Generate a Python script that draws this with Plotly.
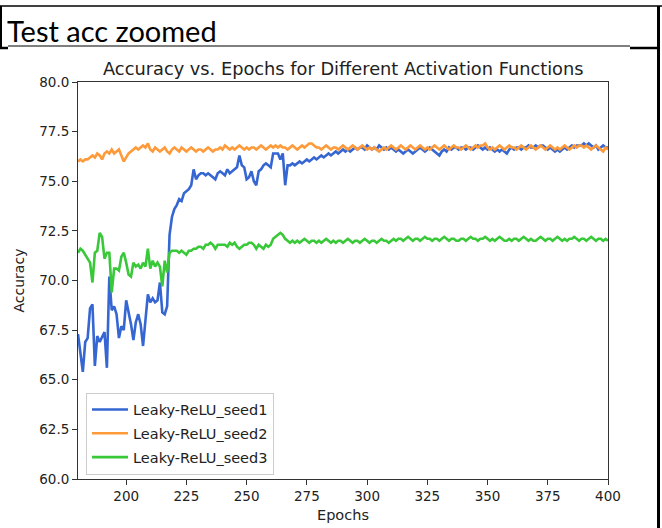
import plotly.graph_objects as go

# Epochs shown in the zoomed view
epochs = list(range(180, 401))

seed1_acc = [
    67.3, 66.2, 65.4, 66.9, 67.1, 68.6, 68.8, 65.7, 67.2, 66.9,  # 180-189
    67.2, 67.4, 65.6, 70.2, 68.5, 68.7, 68.3, 67.1, 67.7, 67.5,  # 190-199
    69.0, 68.4, 67.8, 67.0, 67.9, 68.3, 67.8, 66.7, 67.9, 69.3,  # 200-209
    68.9, 69.1, 68.9, 69.0, 69.9, 68.4, 68.3, 68.7, 72.3, 73.2,  # 210-219
    73.6, 73.8, 74.1, 74.0, 74.4, 74.5, 74.6, 74.8, 75.6, 75.1,  # 220-229
    75.3, 75.4, 75.4, 75.3, 75.4, 75.3, 75.2, 75.1, 75.4, 75.5,  # 230-239
    75.4, 75.3, 75.6, 75.4, 75.5, 75.6, 75.7, 76.3, 75.8, 75.7,  # 240-249
    75.1, 75.2, 75.5, 75.0, 74.8, 75.5, 75.6, 75.8, 75.9, 75.8,  # 250-259
    75.7, 76.4, 76.4, 76.4, 76.1, 76.4, 74.8, 75.8, 75.8, 75.9,  # 260-269
    75.8, 75.9, 76.0, 75.9, 76.0, 76.1, 76.0, 76.1, 76.2, 76.1,  # 270-279
    76.2, 76.3, 76.2, 76.3, 76.4, 76.3, 76.4, 76.5, 76.4, 76.5,  # 280-289
    76.6, 76.5, 76.6, 76.5, 76.6, 76.7, 76.6, 76.7, 76.7, 76.6,  # 290-299
    76.8, 76.7, 76.6, 76.7, 76.6, 76.8, 76.7, 76.6, 76.7, 76.6,  # 300-309
    76.7, 76.6, 76.5, 76.6, 76.5, 76.4, 76.5, 76.6, 76.5, 76.4,  # 310-319
    76.5, 76.6, 76.7, 76.6, 76.5, 76.6, 76.7, 76.6, 76.5, 76.4,  # 320-329
    76.3, 76.5, 76.6, 76.5, 76.7, 76.6, 76.7, 76.7, 76.6, 76.7,  # 330-339
    76.7, 76.6, 76.7, 76.7, 76.6, 76.7, 76.8, 76.7, 76.6, 76.7,  # 340-349
    76.6, 76.7, 76.6, 76.5, 76.6, 76.5, 76.6, 76.5, 76.4, 76.6,  # 350-359
    76.7, 76.6, 76.7, 76.7, 76.6, 76.7, 76.7, 76.8, 76.7, 76.7,  # 360-369
    76.8, 76.7, 76.8, 76.8, 76.7, 76.6, 76.7, 76.6, 76.5, 76.6,  # 370-379
    76.5, 76.6, 76.7, 76.6, 76.7, 76.8, 76.7, 76.8, 76.8, 76.8,  # 380-389
    76.9, 76.8, 76.9, 76.8, 76.7, 76.8, 76.6, 76.7, 76.8, 76.7,  # 390-399
    76.7,                                                        # 400
]

seed2_acc = [
    76.0, 76.1, 76.0, 76.1, 76.1, 76.2, 76.3, 76.2, 76.4, 76.3,  # 180-189
    76.1, 76.4, 76.5, 76.4, 76.6, 76.4, 76.5, 76.6, 76.3, 76.0,  # 190-199
    76.2, 76.4, 76.5, 76.6, 76.7, 76.6, 76.7, 76.8, 76.7, 76.9,  # 200-209
    76.6, 76.5, 76.7, 76.6, 76.5, 76.6, 76.7, 76.5, 76.4, 76.6,  # 210-219
    76.7, 76.6, 76.5, 76.7, 76.6, 76.5, 76.6, 76.7, 76.6, 76.5,  # 220-229
    76.6, 76.6, 76.5, 76.6, 76.7, 76.6, 76.5, 76.6, 76.6, 76.7,  # 230-239
    76.6, 76.8, 76.7, 76.6, 76.7, 76.6, 76.7, 76.8, 76.7, 76.6,  # 240-249
    76.7, 76.6, 76.7, 76.7, 76.6, 76.7, 76.8, 76.7, 76.6, 76.7,  # 250-259
    76.8, 76.7, 76.8, 76.7, 76.8, 76.7, 76.7, 76.6, 76.7, 76.8,  # 260-269
    76.7, 76.6, 76.7, 76.8, 76.7, 76.8, 76.9, 76.9, 76.8, 76.7,  # 270-279
    76.7, 76.6, 76.7, 76.8, 76.7, 76.6, 76.7, 76.7, 76.6, 76.7,  # 280-289
    76.8, 76.7, 76.6, 76.7, 76.8, 76.7, 76.6, 76.7, 76.8, 76.7,  # 290-299
    76.6, 76.7, 76.6, 76.7, 76.6, 76.5, 76.6, 76.7, 76.6, 76.7,  # 300-309
    76.8, 76.7, 76.6, 76.7, 76.8, 76.7, 76.6, 76.7, 76.8, 76.7,  # 310-319
    76.6, 76.7, 76.8, 76.7, 76.6, 76.7, 76.6, 76.7, 76.8, 76.7,  # 320-329
    76.6, 76.7, 76.8, 76.7, 76.6, 76.7, 76.8, 76.7, 76.7, 76.6,  # 330-339
    76.7, 76.8, 76.7, 76.6, 76.7, 76.8, 76.7, 76.8, 76.8, 76.9,  # 340-349
    76.7, 76.6, 76.7, 76.6, 76.7, 76.8, 76.7, 76.6, 76.7, 76.8,  # 350-359
    76.7, 76.7, 76.6, 76.7, 76.8, 76.7, 76.6, 76.7, 76.8, 76.7,  # 360-369
    76.6, 76.7, 76.8, 76.7, 76.6, 76.7, 76.8, 76.7, 76.6, 76.7,  # 370-379
    76.6, 76.7, 76.8, 76.7, 76.6, 76.7, 76.8, 76.7, 76.8, 76.8,  # 380-389
    76.7, 76.8, 76.7, 76.6, 76.7, 76.8, 76.7, 76.6, 76.5, 76.7,  # 390-399
    76.6,                                                        # 400
]

seed3_acc = [
    71.4, 71.6, 71.5, 71.3, 71.1, 70.9, 69.9, 71.4, 71.5, 72.4,  # 180-189
    72.2, 71.1, 71.4, 71.4, 69.4, 70.6, 70.6, 70.5, 71.2, 71.4,  # 190-199
    70.9, 70.3, 70.2, 70.9, 70.7, 70.8, 70.6, 70.9, 70.7, 71.6,  # 200-209
    70.6, 71.0, 70.7, 70.9, 70.7, 69.7, 71.0, 70.4, 71.4, 71.5,  # 210-219
    71.5, 71.5, 71.4, 71.5, 71.4, 71.3, 71.5, 71.5, 71.6, 71.6,  # 220-229
    71.7, 71.7, 71.6, 71.8, 71.8, 71.9, 71.8, 71.6, 71.8, 71.8,  # 230-239
    71.8, 71.8, 71.7, 71.9, 71.8, 71.9, 71.7, 71.6, 71.7, 71.8,  # 240-249
    71.8, 71.9, 71.9, 71.8, 71.6, 71.8, 71.7, 71.6, 71.8, 71.7,  # 250-259
    71.8, 72.1, 72.2, 72.3, 72.4, 72.3, 72.1, 72.0, 71.9, 72.0,  # 260-269
    71.9, 72.0, 71.9, 72.0, 72.1, 72.0, 71.9, 72.0, 72.0, 71.9,  # 270-279
    72.0, 71.9, 72.0, 72.1, 72.0, 71.9, 72.0, 71.9, 72.0, 72.0,  # 280-289
    71.9, 72.0, 72.1, 72.0, 71.9, 72.0, 72.0, 71.9, 72.0, 72.1,  # 290-299
    72.0, 71.9, 72.0, 72.0, 71.9, 72.0, 72.1, 72.0, 72.0, 71.9,  # 300-309
    72.0, 72.1, 72.0, 72.1, 72.1, 72.0, 72.1, 72.2, 72.1, 72.0,  # 310-319
    72.1, 72.1, 72.0, 72.1, 72.2, 72.1, 72.1, 72.0, 72.1, 72.1,  # 320-329
    72.0, 72.1, 72.2, 72.1, 72.0, 72.1, 72.1, 72.0, 72.0, 72.1,  # 330-339
    72.1, 72.0, 72.1, 72.2, 72.1, 72.1, 72.0, 72.1, 72.1, 72.2,  # 340-349
    72.1, 72.0, 72.1, 72.0, 72.1, 72.2, 72.1, 72.0, 72.0, 72.1,  # 350-359
    72.0, 72.1, 72.1, 72.0, 72.1, 72.2, 72.1, 72.0, 72.1, 72.0,  # 360-369
    72.0, 72.1, 72.2, 72.1, 72.0, 72.1, 72.1, 72.0, 72.1, 72.2,  # 370-379
    72.1, 72.0, 72.1, 72.0, 72.1, 72.1, 72.2, 72.1, 72.0, 72.1,  # 380-389
    72.1, 72.0, 72.1, 72.2, 72.1, 72.0, 72.1, 72.1, 72.0, 72.1,  # 390-399
    72.0,                                                        # 400
]

series_names = ["Leaky-ReLU_seed1", "Leaky-ReLU_seed2", "Leaky-ReLU_seed3"]
series_colors = ["#3566d2", "#ff9a3a", "#38c838"]

x_ticks = [200, 225, 250, 275, 300, 325, 350, 375, 400]
y_ticks = [60.0, 62.5, 65.0, 67.5, 70.0, 72.5, 75.0, 77.5, 80.0]

W, H = 662, 528
ML, MR, MT, MB = 78, W - 608, 82, H - 479
PW, PH = W - ML - MR, H - MT - MB


def px(xpix):
    return (xpix - ML) / PW


def py(ypix):
    return (H - MB - ypix) / PH


fig = go.Figure()
for name, ys, col in zip(series_names, [seed1_acc, seed2_acc, seed3_acc], series_colors):
    fig.add_trace(go.Scatter(
        x=epochs, y=ys, mode="lines", name=name, legendgroup=name,
        line=dict(color=col, width=2.6),
    ))

axis_common = dict(
    showgrid=False, zeroline=False, showline=True, mirror=True,
    linecolor="#333333", linewidth=1, ticks="outside", ticklen=5,
    tickwidth=1, tickcolor="#333333",
    tickfont=dict(family="DejaVu Sans", size=13.5, color="#222222"),
)

fig.update_layout(
    width=W, height=H,
    margin=dict(l=ML, r=MR, t=MT, b=MB),
    paper_bgcolor="white", plot_bgcolor="white",
    showlegend=True,
    legend=dict(
        x=px(86), y=py(474.5), xanchor="left", yanchor="bottom",
        bgcolor="rgba(255,255,255,0.85)", bordercolor="#cccccc", borderwidth=1,
        font=dict(family="DejaVu Sans", size=14.5, color="#222222"),
        tracegroupgap=2, itemwidth=36,
    ),
    xaxis=dict(range=[180, 400], tickvals=x_ticks,
               ticktext=[str(v) for v in x_ticks], **axis_common),
    yaxis=dict(range=[60, 80], tickvals=y_ticks,
               ticktext=[f"{v:.1f}" for v in y_ticks], **axis_common),
)

# Titles and axis labels
fig.add_annotation(
    text="Accuracy vs. Epochs for Different Activation Functions",
    xref="paper", yref="paper", x=0.5, y=py(68), xanchor="center", yanchor="middle",
    showarrow=False, font=dict(family="DejaVu Sans", size=17.8, color="#222222"),
)
fig.add_annotation(
    text="Accuracy", textangle=-90,
    xref="paper", yref="paper", x=px(18), y=0.5, xanchor="center", yanchor="middle",
    showarrow=False, font=dict(family="DejaVu Sans", size=14, color="#222222"),
)
fig.add_annotation(
    text="Epochs",
    xref="paper", yref="paper", x=0.5, y=py(515), xanchor="center", yanchor="middle",
    showarrow=False, font=dict(family="DejaVu Sans", size=14.5, color="#222222"),
)

# Slide-style header with its frame
fig.add_annotation(
    text="Test acc zoomed",
    xref="paper", yref="paper", x=px(5), y=py(31), xanchor="left", yanchor="middle",
    showarrow=False, font=dict(family="Lato", size=29, color="black"),
)


def frame_line(x0, y0, x1, y1, width):
    fig.add_shape(type="line", xref="paper", yref="paper",
                  x0=px(x0), y0=py(y0), x1=px(x1), y1=py(y1),
                  line=dict(color="black", width=width))


frame_line(0, 6, W, 6, 1.5)
frame_line(1, 6, 1, 47, 2)
frame_line(8, 46, 630, 46, 1.2)
frame_line(0, 48, 8, 48, 2.5)
frame_line(630, 48, 659, 48, 2.5)
frame_line(658.5, 6, 658.5, H, 3)

fig.write_html("out.html")
